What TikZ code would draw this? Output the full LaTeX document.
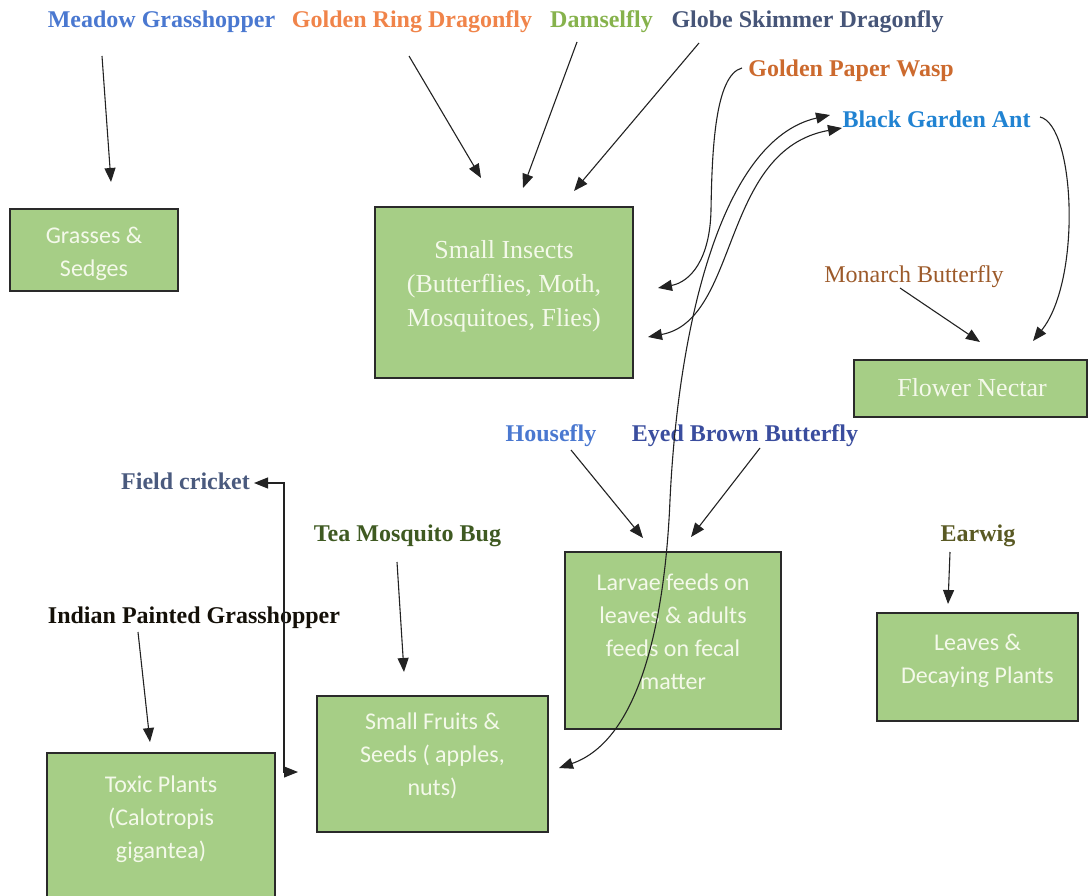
\documentclass[tikz,border=0pt]{standalone}
\usepackage{fontspec}
\setmainfont{Liberation Serif}
\newfontfamily\carl{Carlito}
\usetikzlibrary{arrows.meta}
\definecolor{boxfill}{HTML}{A6CE86}
\definecolor{boxline}{HTML}{2A2A2A}
\definecolor{boxtext}{HTML}{F4F9EA}
\definecolor{arrowc}{HTML}{222222}
\definecolor{cMeadow}{HTML}{4A78D0}
\definecolor{cGold}{HTML}{F0844A}
\definecolor{cDamsel}{HTML}{86B24C}
\definecolor{cGlobe}{HTML}{465578}
\definecolor{cWasp}{HTML}{CC6A2E}
\definecolor{cAnt}{HTML}{2183D2}
\definecolor{cMonarch}{HTML}{9C5A2A}
\definecolor{cHouse}{HTML}{4A78D0}
\definecolor{cEyed}{HTML}{3A4D9E}
\definecolor{cCricket}{HTML}{4A5A7E}
\definecolor{cTea}{HTML}{3F5A22}
\definecolor{cIndian}{HTML}{141008}
\definecolor{cEarwig}{HTML}{5A5A24}
\begin{document}
\begin{tikzpicture}[x=1pt,y=-1pt,
  box/.style={draw=boxline, line width=1.8pt, fill=boxfill, rectangle, inner sep=0pt},
  lab/.style={font=\bfseries\fontsize{24}{28}\selectfont, inner sep=0pt, anchor=base},
  labn/.style={font=\fontsize{24}{28}\selectfont, inner sep=0pt, anchor=base},
  btxt/.style={text=boxtext, align=center, inner sep=0pt, font=\carl\fontsize{24}{33}\selectfont},
  ttxt/.style={text=boxtext, align=center, inner sep=0pt, font=\fontsize{26}{34}\selectfont},
  arr/.style={draw=arrowc, line width=1.1pt, -{Triangle[length=14pt,width=11pt]}},
  darr/.style={draw=arrowc, line width=1.1pt, {Triangle[length=14pt,width=11pt]}-{Triangle[length=14pt,width=11pt]}}
]
\useasboundingbox (0,0) rectangle (1089,896);
\clip (0,0) rectangle (1089,896);

% boxes
\node[box, minimum width=168pt, minimum height=82pt] (grass) at (94,250) {};
\node[btxt] (grassT) at (94,254) {Grasses \&\\Sedges};
\node[box, minimum width=258pt, minimum height=171pt] (insects) at (504,292.5) {};
\node[ttxt] (insectsT) at (504,286) {Small Insects\\(Butterflies, Moth,\\Mosquitoes, Flies)};
\node[box, minimum width=233pt, minimum height=57pt] (nectar) at (970.5,388.5) {};
\node[ttxt] (nectarT) at (972,388) {Flower Nectar};
\node[box, minimum width=216pt, minimum height=177pt] (larvae) at (673,640.5) {};
\node[btxt] (larvaeT) at (673,632) {Larvae feeds on\\leaves \& adults\\feeds on fecal\\matter};
\node[box, minimum width=201pt, minimum height=108pt] (leaves) at (977.5,667) {};
\node[btxt] (leavesT) at (977.5,661) {Leaves \&\\Decaying Plants};
\node[box, minimum width=231pt, minimum height=136pt] (fruits) at (432.5,764) {};
\node[btxt] (fruitsT) at (432.5,756) {Small Fruits \&\\Seeds ( apples,\\nuts)};
\node[box, minimum width=228pt, minimum height=174pt] (toxic) at (161,840) {};
\node[btxt] (toxicT) at (161,819) {Toxic Plants\\(Calotropis\\gigantea)};

% labels
\node[lab, text=cMeadow] (meadow) at (161.5,28) {Meadow Grasshopper};
\node[lab, text=cGold] (goldring) at (412,28) {Golden Ring Dragonfly};
\node[lab, text=cDamsel] (damsel) at (601.5,28) {Damselfly};
\node[lab, text=cGlobe] (globe) at (807.5,28) {Globe Skimmer Dragonfly};
\node[lab, text=cWasp] (wasp) at (851,77) {Golden Paper Wasp};
\node[lab, text=cAnt] (ant) at (936.5,128) {Black Garden Ant};
\node[labn, text=cMonarch] (monarch) at (914,282) {Monarch Butterfly};
\node[lab, text=cHouse] (housefly) at (551,441) {Housefly};
\node[lab, text=cEyed] (eyed) at (745,441) {Eyed Brown Butterfly};
\node[lab, text=cCricket] (cricket) at (185.5,489) {Field cricket};
\node[lab, text=cTea] (tea) at (407.5,541) {Tea Mosquito Bug};
\node[lab, text=cIndian] (indian) at (194,623) {Indian Painted Grasshopper};
\node[lab, text=cEarwig] (earwig) at (978,541) {Earwig};

% connector end points
\coordinate (meadowS) at (102,56);   \coordinate (grassE) at (111,182);
\coordinate (goldS) at (409,56);     \coordinate (insE1) at (481,178);
\coordinate (damselS) at (577,42);   \coordinate (insE2) at (523,188);
\coordinate (globeS) at (699,43);    \coordinate (insE3) at (574,191);
\coordinate (waspS) at (742,68);     \coordinate (insE4) at (658,288);
\coordinate (insE5) at (648,337);    \coordinate (antW1) at (842,128);
\coordinate (fruitE1) at (559,768);  \coordinate (antW2) at (830,115);
\coordinate (antE) at (1040,117);    \coordinate (nectE1) at (1033,341);
\coordinate (monS) at (900,288);     \coordinate (nectE2) at (980,342);
\coordinate (houseS) at (571,450);   \coordinate (larvE1) at (643,538);
\coordinate (eyedS) at (760,448);    \coordinate (larvE2) at (691,537);
\coordinate (crickE) at (254,483);   \coordinate (fruitE2) at (298,772);
\coordinate (teaS) at (397,562);     \coordinate (fruitE3) at (404,672);
\coordinate (indS) at (138,632);     \coordinate (toxE) at (150,742);
\coordinate (earS) at (950,552);     \coordinate (leafE) at (948,604);

% connectors
\draw[arr] (meadowS) -- (grassE);
\draw[arr] (goldS) -- (insE1);
\draw[arr] (damselS) -- (insE2);
\draw[arr] (globeS) -- (insE3);
\draw[arr] (waspS) .. controls (715,75) and (712,150) .. (711,210)
                 .. controls (710,260) and (690,282) .. (insE4);
\draw[darr] (insE5) .. controls (740,320) and (720,150) .. (antW1);
\draw[darr] (fruitE1) .. controls (640,740) and (665,620) .. (670,500)
                    .. controls (678,330) and (720,140) .. (antW2);
\draw[arr] (antE) .. controls (1075,125) and (1082,280) .. (nectE1);
\draw[arr] (monS) -- (nectE2);
\draw[arr] (houseS) -- (larvE1);
\draw[arr] (eyedS) -- (larvE2);
\draw[darr] (crickE) -- (284,483) -- (284,772) -- (fruitE2);
\draw[arr] (teaS) -- (fruitE3);
\draw[arr] (indS) -- (toxE);
\draw[arr] (earS) -- (leafE);
\end{tikzpicture}
\end{document}
